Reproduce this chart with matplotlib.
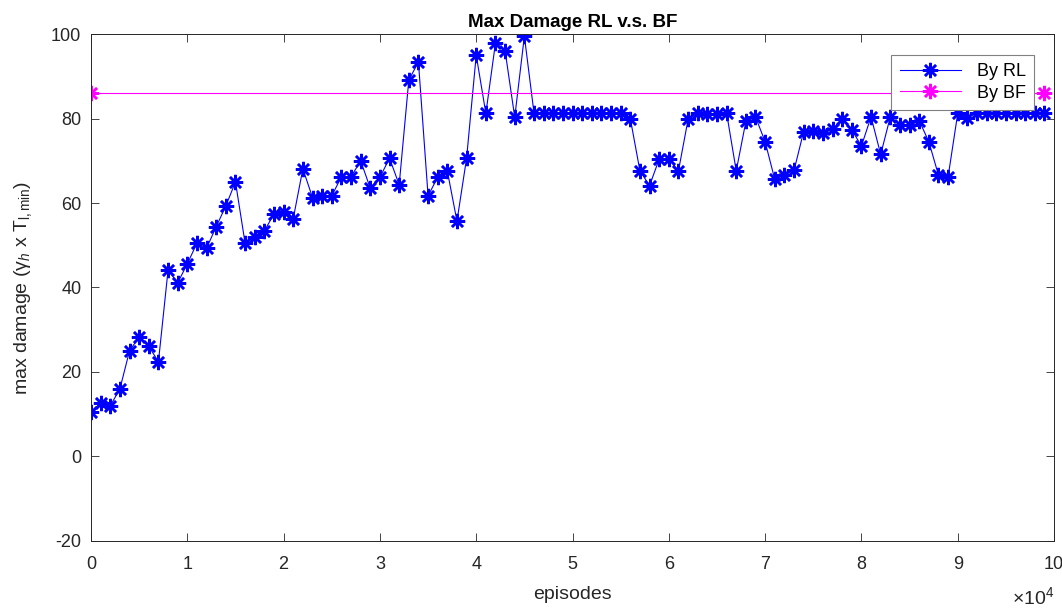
import numpy as np
import matplotlib.pyplot as plt
from matplotlib.ticker import FuncFormatter

plt.rcParams['font.family'] = ['Liberation Sans', 'DejaVu Sans']
plt.rcParams['mathtext.fontset'] = 'custom'
plt.rcParams['mathtext.rm'] = 'Liberation Sans'
plt.rcParams['mathtext.it'] = 'Liberation Sans:italic'
plt.rcParams['axes.unicode_minus'] = False

# episodes, one point every 1000
episodes = np.arange(0, 100000, 1000)

# max damage found by RL
rl_damage = [
    10.6, 12.6, 12.0, 16.0, 25.0, 28.3, 26.1, 22.4, 44.1, 41.1,
    45.6, 50.5, 49.3, 54.4, 59.3, 65.0, 50.5, 51.9, 53.4, 57.4,
    57.9, 56.3, 68.1, 61.3, 61.7, 61.7, 66.2, 66.2, 70.0, 63.5,
    66.1, 70.6, 64.3, 89.1, 93.4, 61.7, 66.1, 67.6, 55.7, 70.6,
    95.0, 81.2, 97.9, 96.0, 80.3, 99.5, 81.3, 81.3, 81.3, 81.3,
    81.3, 81.3, 81.3, 81.3, 81.3, 81.3, 80.0, 67.6, 64.1, 70.4,
    70.4, 67.6, 79.8, 81.4, 81.0, 81.0, 81.3, 67.6, 79.3, 80.4,
    74.5, 65.6, 66.6, 67.7, 76.9, 77.0, 76.5, 77.4, 79.9, 77.3,
    73.5, 80.4, 71.5, 80.4, 78.4, 78.4, 79.5, 74.5, 66.6, 66.2,
    81.2, 80.2, 81.3, 81.3, 81.3, 81.3, 81.3, 81.3, 81.3, 81.3,
]

# brute force result (constant)
bf_damage = 86.1
bf_x = [episodes[0], episodes[-1]]
bf_y = [bf_damage, bf_damage]

# matlab style asterisk
ast = (8, 2, 0)

fig = plt.figure(figsize=(10.62, 6.13), dpi=100)
ax = fig.add_axes([0.0857, 0.1175, 0.9068, 0.827])

ax.plot(episodes, rl_damage, color=(0, 0, 1), linewidth=0.8, marker=ast,
        markersize=11, markeredgewidth=1.8, label='By RL')
ax.plot(bf_x, bf_y, color=(1, 0, 1), linewidth=0.8, marker=ast,
        markersize=11, markeredgewidth=1.8, label='By BF')

ax.set_xlim(0, 100000)
ax.set_ylim(-20, 100)
ax.set_xticks(np.arange(0, 100001, 10000))
ax.set_yticks(np.arange(-20, 101, 20))
ax.xaxis.set_major_formatter(FuncFormatter(lambda v, p: '%d' % round(v / 1e4)))
ax.tick_params(direction='in', length=6, width=0.6, top=True, right=True,
               labelsize=13, colors='#262626')
ax.tick_params(axis='x', pad=11)
ax.tick_params(axis='y', pad=7)
for s in ax.spines.values():
    s.set_linewidth(0.7)
    s.set_color('#262626')

ax.set_title('Max Damage RL v.s. BF', fontsize=13.5, fontweight='bold', pad=5)
ax.set_xlabel('episodes', fontsize=14, color='#262626', labelpad=9)
ax.set_ylabel('max damage (γ$_h$ x T$_{\\mathrm{l,min}}$)', fontsize=14,
              color='#262626', labelpad=12)
ax.text(1.0, -0.09, r'$\times10^4$', transform=ax.transAxes, ha='right',
        va='top', fontsize=14, color='#262626')

leg = ax.legend(loc='upper right', bbox_to_anchor=(0.9795, 0.9586), fontsize=13,
                fancybox=False, framealpha=1, edgecolor='#808080',
                borderpad=0.45, handlelength=3.4, handletextpad=0.9,
                labelspacing=0.25, borderaxespad=0)
leg.get_frame().set_linewidth(0.8)

fig.savefig('out.png', dpi=100)
